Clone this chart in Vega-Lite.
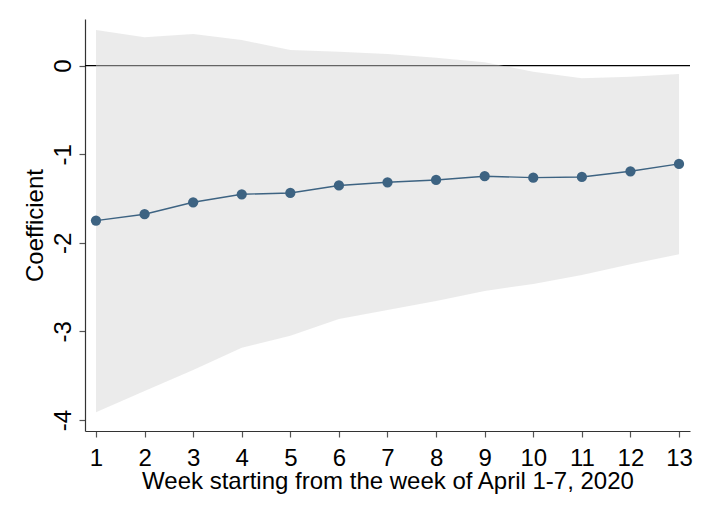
{
  "$schema": "https://vega.github.io/schema/vega-lite/v6.json",
  "description": "Weekly coefficient estimates with 95% confidence band.",
  "width": 605,
  "height": 412,
  "autosize": "none",
  "padding": {"left": 85, "top": 19, "right": 19, "bottom": 85},
  "background": "white",
  "config": {
    "view": {"stroke": null},
    "font": "Liberation Sans",
    "axis": {
      "grid": false,
      "domainColor": "#333333",
      "domainWidth": 1.2,
      "tickColor": "#555555",
      "tickSize": 6,
      "tickWidth": 1.2,
      "labelFont": "Liberation Sans",
      "labelFontSize": 24,
      "labelColor": "#000000",
      "titleFont": "Liberation Sans",
      "titleFontSize": 24,
      "titleFontWeight": "normal",
      "titleColor": "#000000"
    }
  },
  "data": {
    "values": [
      {"week": 1, "coef": -1.749, "lo": -3.912, "hi": 0.403},
      {"week": 2, "coef": -1.677, "lo": -3.673, "hi": 0.320},
      {"week": 3, "coef": -1.542, "lo": -3.435, "hi": 0.358},
      {"week": 4, "coef": -1.452, "lo": -3.183, "hi": 0.290},
      {"week": 5, "coef": -1.437, "lo": -3.050, "hi": 0.177},
      {"week": 6, "coef": -1.352, "lo": -2.859, "hi": 0.158},
      {"week": 7, "coef": -1.316, "lo": -2.757, "hi": 0.132},
      {"week": 8, "coef": -1.290, "lo": -2.656, "hi": 0.090},
      {"week": 9, "coef": -1.248, "lo": -2.543, "hi": 0.038},
      {"week": 10, "coef": -1.264, "lo": -2.464, "hi": -0.068},
      {"week": 11, "coef": -1.256, "lo": -2.362, "hi": -0.142},
      {"week": 12, "coef": -1.192, "lo": -2.241, "hi": -0.124},
      {"week": 13, "coef": -1.109, "lo": -2.129, "hi": -0.094}
    ]
  },
  "layer": [
    {
      "data": {"values": [{"zero": 0}]},
      "mark": {"type": "rule", "color": "#000000", "strokeWidth": 1.2},
      "encoding": {
        "y": {"field": "zero", "type": "quantitative", "scale": {"domain": [-4.124, 0.527], "nice": false, "zero": false}}
      }
    },
    {
      "mark": {"type": "area", "color": "#d4d4d4", "opacity": 0.47},
      "encoding": {
        "x": {"field": "week", "type": "quantitative"},
        "y": {"field": "lo", "type": "quantitative"},
        "y2": {"field": "hi"}
      }
    },
    {
      "mark": {"type": "line", "color": "#3d6382", "strokeWidth": 1.4},
      "encoding": {
        "x": {"field": "week", "type": "quantitative"},
        "y": {"field": "coef", "type": "quantitative"}
      }
    },
    {
      "mark": {"type": "point", "filled": true, "opacity": 1, "color": "#3d6382", "size": 105},
      "encoding": {
        "x": {
          "field": "week",
          "type": "quantitative",
          "scale": {"domain": [0.774, 13.226], "nice": false, "zero": false},
          "axis": {
            "title": "Week starting from the week of April 1-7, 2020",
            "values": [1, 2, 3, 4, 5, 6, 7, 8, 9, 10, 11, 12, 13],
            "labelExpr": "'' + datum.value",
            "labelPadding": 9,
            "titlePadding": -1
          }
        },
        "y": {
          "field": "coef",
          "type": "quantitative",
          "axis": {
            "title": "Coefficient",
            "values": [-4, -3, -2, -1, 0],
            "labelExpr": "'' + datum.value",
            "labelAngle": -90,
            "labelAlign": "center",
            "labelBaseline": "alphabetic",
            "labelPadding": 9,
            "titlePadding": 4
          }
        }
      }
    }
  ]
}
